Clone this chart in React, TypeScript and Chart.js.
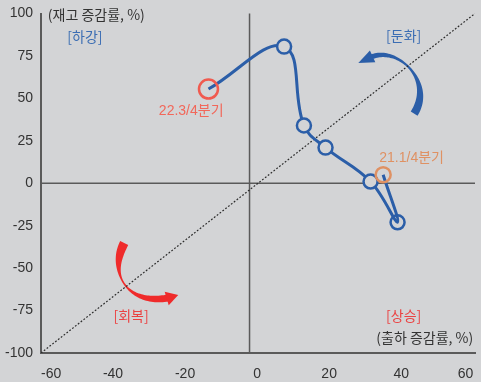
import React, { useEffect, useRef } from "react";
import { Chart, registerables } from "chart.js";

Chart.register(...registerables);

// 분기별 출하·재고 증감률 (%, 전년동기대비)
const quarters = ["21.1/4", "21.2/4", "21.3/4", "21.4/4", "22.1/4", "22.2/4", "22.3/4"];
const shipmentGrowth = [35, 39, 31.5, 19, 13, 7.5, -13.5];
const inventoryGrowth = [5, -23, 1, 21, 34, 80.5, 55.5];

// 축 범위·눈금 간격
const xRange = [-60, 60.5];
const yRange = [-100, 100];
const xStep = 20;
const yStep = 25;

// 대각 기준선 끝점
const diagonalX = [-60, 60.5];
const diagonalY = [-100, 100];

// 세로 기준선이 놓이는 출하 증감률 값
const crossX = -2.1;

// ---- 스타일 ----
const BG = "#d3d4d6";
const BLUE = "#2b5ea8";
const LABEL_BLUE = "#3b6db3";
const RED = "#ef2b2b";
const LABEL_RED = "#eb4242";
const CORAL = "#f05a4f";
const CORAL_TEXT = "#f2675a";
const ORANGE = "#df9163";
const DARK = "#333333";
const AXIS = "#5a5a5a";
const KR = '"Noto Sans CJK KR", "Noto Sans", sans-serif';
const NUM = '"Liberation Sans", "Noto Sans CJK KR", sans-serif';

type Pt = { x: number; y: number };

// 도표 위 설명 문구 (값 좌표 기준 배치)
const notes: { text: string; at: Pt; color: string; align: CanvasTextAlign; font: string }[] = [
  { text: "(재고 증감률, %)", at: { x: -58.1, y: 99.2 }, color: DARK, align: "left", font: `14px ${KR}` },
  { text: "[하강]", at: { x: -47.8, y: 86.4 }, color: LABEL_BLUE, align: "center", font: `14px ${KR}` },
  { text: "[둔화]", at: { x: 40.7, y: 87.0 }, color: LABEL_BLUE, align: "center", font: `14px ${KR}` },
  { text: "[회복]", at: { x: -35, y: -78 }, color: LABEL_RED, align: "center", font: `14px ${KR}` },
  { text: "[상승]", at: { x: 40.7, y: -78 }, color: LABEL_RED, align: "center", font: `14px ${KR}` },
  { text: "(출하 증감률, %)", at: { x: 60, y: -91.2 }, color: DARK, align: "right", font: `14px ${KR}` },
  { text: `${quarters[6]}분기`, at: { x: -18.3, y: 42.2 }, color: CORAL_TEXT, align: "center", font: `14px ${NUM}` },
  { text: `${quarters[0]}분기`, at: { x: 42.9, y: 14.8 }, color: ORANGE, align: "center", font: `14px ${NUM}` },
];

// 국면 전환 화살표 (베지어 제어점, 화살촉 끝점; 값 좌표)
const swooshes: { ctrl: Pt[]; tip: Pt; widths: [number, number, number]; pinch: number; head: number; color: string }[] = [
  {
    ctrl: [{ x: 43.6, y: 41.0 }, { x: 49.2, y: 60.0 }, { x: 39.2, y: 80.9 }, { x: 31.7, y: 74.4 }],
    tip: { x: 28.1, y: 70.9 },
    widths: [8, 2.2, 5],
    pinch: 0.55,
    head: 6.5,
    color: BLUE,
  },
  {
    ctrl: [{ x: -36.9, y: -35.2 }, { x: -41.4, y: -54.0 }, { x: -35.8, y: -71.7 }, { x: -24.7, y: -67.6 }],
    tip: { x: -21.9, y: -65.8 },
    widths: [9, 1.6, 7],
    pinch: 0.45,
    head: 7,
    color: RED,
  },
];

function bez(p: Pt[], t: number): Pt {
  const u = 1 - t;
  const a = u * u * u, b = 3 * u * u * t, c = 3 * u * t * t, d = t * t * t;
  return { x: a * p[0].x + b * p[1].x + c * p[2].x + d * p[3].x, y: a * p[0].y + b * p[1].y + c * p[2].y + d * p[3].y };
}

function bezD(p: Pt[], t: number): Pt {
  const u = 1 - t;
  return {
    x: 3 * u * u * (p[1].x - p[0].x) + 6 * u * t * (p[2].x - p[1].x) + 3 * t * t * (p[3].x - p[2].x),
    y: 3 * u * u * (p[1].y - p[0].y) + 6 * u * t * (p[2].y - p[1].y) + 3 * t * t * (p[3].y - p[2].y),
  };
}

const smooth = (v: number) => v * v * (3 - 2 * v);

function drawSwoosh(ctx: CanvasRenderingContext2D, p: Pt[], tip: Pt, widths: [number, number, number], pinch: number, head: number, color: string) {
  const N = 60;
  const left: Pt[] = [];
  const right: Pt[] = [];
  for (let i = 0; i <= N; i++) {
    const t = i / N;
    const b = bez(p, t);
    const d = bezD(p, t);
    const len = Math.hypot(d.x, d.y) || 1;
    const nx = -d.y / len, ny = d.x / len;
    const w = t < pinch
      ? widths[0] + (widths[1] - widths[0]) * smooth(t / pinch)
      : widths[1] + (widths[2] - widths[1]) * smooth((t - pinch) / (1 - pinch));
    left.push({ x: b.x + (nx * w) / 2, y: b.y + (ny * w) / 2 });
    right.push({ x: b.x - (nx * w) / 2, y: b.y - (ny * w) / 2 });
  }
  ctx.save();
  ctx.fillStyle = color;
  ctx.beginPath();
  ctx.moveTo(left[0].x, left[0].y);
  for (const q of left) ctx.lineTo(q.x, q.y);
  for (let i = right.length - 1; i >= 0; i--) ctx.lineTo(right[i].x, right[i].y);
  ctx.closePath();
  ctx.fill();

  const end = p[3];
  const dx = tip.x - end.x, dy = tip.y - end.y;
  const l = Math.hypot(dx, dy) || 1;
  const ux = dx / l, uy = dy / l;
  const nx = -uy, ny = ux;
  const bx = end.x - ux * 1.5, by = end.y - uy * 1.5;
  ctx.beginPath();
  ctx.moveTo(bx + nx * head, by + ny * head);
  ctx.lineTo(tip.x, tip.y);
  ctx.lineTo(bx - nx * head, by - ny * head);
  ctx.closePath();
  ctx.fill();
  ctx.restore();
}

const decorations = {
  id: "decorations",
  beforeDatasetsDraw(chart: Chart) {
    const { ctx, chartArea, scales } = chart;
    const sx = scales.x, sy = scales.y;
    ctx.save();
    ctx.strokeStyle = AXIS;
    ctx.lineWidth = 1.5;
    const y0 = sy.getPixelForValue(0);
    ctx.beginPath();
    ctx.moveTo(chartArea.left, y0);
    ctx.lineTo(chartArea.right, y0);
    ctx.stroke();
    const xc = sx.getPixelForValue(crossX);
    ctx.beginPath();
    ctx.moveTo(xc, chartArea.top);
    ctx.lineTo(xc, chartArea.bottom);
    ctx.stroke();
    ctx.restore();

    for (const s of swooshes) {
      const px = s.ctrl.map((q) => ({ x: sx.getPixelForValue(q.x), y: sy.getPixelForValue(q.y) }));
      const tip = { x: sx.getPixelForValue(s.tip.x), y: sy.getPixelForValue(s.tip.y) };
      drawSwoosh(ctx, px, tip, s.widths, s.pinch, s.head, s.color);
    }
  },
  afterDatasetsDraw(chart: Chart) {
    const { ctx, scales } = chart;
    ctx.save();
    ctx.textBaseline = "middle";
    for (const n of notes) {
      ctx.font = n.font;
      ctx.fillStyle = n.color;
      ctx.textAlign = n.align;
      ctx.fillText(n.text, scales.x.getPixelForValue(n.at.x), scales.y.getPixelForValue(n.at.y));
    }
    ctx.restore();
  },
};

export default function App() {
  const canvasRef = useRef<HTMLCanvasElement | null>(null);

  useEffect(() => {
    const canvas = canvasRef.current;
    if (!canvas) return;

    const path = quarters.map((_, i) => ({ x: shipmentGrowth[i], y: inventoryGrowth[i] }));
    const last = quarters.length - 1;
    const innerRadius = quarters.map((_, i) => (i === 0 || i === last ? 0 : 7));
    const innerFill = quarters.map((_, i) => (i === 1 ? "rgba(0,0,0,0)" : BG));

    const chart = new Chart(canvas, {
      type: "scatter",
      data: {
        datasets: [
          {
            // 시작·끝 분기 표시 원
            data: [path[0], path[last]],
            showLine: false,
            pointRadius: [7.5, 9.5],
            pointBorderWidth: 2.5,
            pointBorderColor: [ORANGE, CORAL],
            pointBackgroundColor: "rgba(0,0,0,0)",
          },
          {
            data: path,
            showLine: true,
            tension: 0.4,
            borderColor: BLUE,
            borderWidth: 3,
            pointRadius: innerRadius,
            pointBorderWidth: 2.5,
            pointBorderColor: BLUE,
            pointBackgroundColor: innerFill,
          },
          {
            data: diagonalX.map((x, i) => ({ x, y: diagonalY[i] })),
            showLine: true,
            borderColor: "#2b2b2b",
            borderWidth: 1.2,
            borderDash: [1.8, 1.8],
            pointRadius: 0,
          },
        ],
      },
      options: {
        animation: false,
        responsive: false,
        events: [],
        layout: { autoPadding: false, padding: { top: 13.5, right: 6, left: 0, bottom: 0 } },
        plugins: { legend: { display: false }, tooltip: { enabled: false } },
        scales: {
          x: {
            type: "linear",
            min: xRange[0],
            max: xRange[1],
            border: { display: true, color: AXIS, width: 2 },
            grid: { color: "rgba(0,0,0,0)", drawTicks: false },
            ticks: {
              stepSize: xStep,
              includeBounds: false,
              align: "inner",
              padding: 13,
              color: DARK,
              font: { family: NUM, size: 14 },
            },
            afterFit: (s: any) => {
              s.height = 29;
              s.paddingLeft = 0;
              s.paddingRight = 0;
            },
          },
          y: {
            type: "linear",
            min: yRange[0],
            max: yRange[1],
            border: { display: true, color: AXIS, width: 2 },
            grid: { color: "rgba(0,0,0,0)", drawTicks: false },
            ticks: {
              stepSize: yStep,
              padding: 8,
              color: DARK,
              font: { family: NUM, size: 14 },
            },
            afterFit: (s: any) => {
              s.width = 41;
              s.paddingTop = 0;
              s.paddingBottom = 0;
            },
          },
        },
      },
      plugins: [decorations],
    });

    return () => chart.destroy();
  }, []);

  return (
    <div style={{ position: "fixed", left: 0, top: 0, width: 481, height: 382, background: BG }}>
      <canvas ref={canvasRef} width={481} height={382} style={{ display: "block" }} />
    </div>
  );
}
